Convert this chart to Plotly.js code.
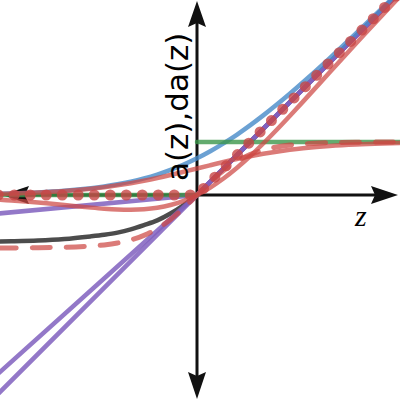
<!DOCTYPE html>
<html>
<head>
<meta charset="utf-8">
<script src="https://cdn.plot.ly/plotly-3.0.1.min.js"></script>
<style>
html,body{margin:0;padding:0;background:#fff;}
#chart{width:400px;height:400px;}
.js-line{stroke-linecap:round;stroke-linejoin:round;}
</style>
</head>
<body>
<div id="chart"></div>
<script>
// sample points along z
const z = [-3.75,-3.5,-3,-2.5,-2,-1.75,-1.5,-1.25,-1,-0.75,-0.5,-0.25,0,0.25,0.5,0.75,1,1.25,1.5,1.75,2,2.5,3,3.5,3.85];
// softplus (blue)
const softplus = [0.0233,0.0298,0.0486,0.0789,0.1269,0.1602,0.2014,0.2519,0.3133,0.3863,0.4741,0.5759,0.6931,0.8259,0.9741,1.1363,1.3133,1.5019,1.7014,1.9102,2.1269,2.5789,3.0486,3.5298,3.8710];
// sigmoid (red solid)
const sigmoid = [0.0230,0.0293,0.0474,0.0759,0.1192,0.1480,0.1824,0.2227,0.2689,0.3208,0.3775,0.4378,0.5,0.5622,0.6225,0.6792,0.7311,0.7773,0.8176,0.8520,0.8808,0.9241,0.9526,0.9707,0.9792];
// tanh (red dashed)
const tanhv = [-0.9989,-0.9982,-0.9951,-0.9866,-0.9640,-0.9414,-0.9051,-0.8483,-0.7616,-0.6351,-0.4621,-0.2449,0,0.2449,0.4621,0.6351,0.7616,0.8483,0.9051,0.9414,0.9640,0.9866,0.9951,0.9982,0.9991];
// swish (red solid)
const swish = [-0.0863,-0.1026,-0.1423,-0.1898,-0.2384,-0.2590,-0.2736,-0.2784,-0.2689,-0.2406,-0.1888,-0.1094,0,0.1406,0.3112,0.5094,0.7311,0.9716,1.2264,1.4910,1.7616,2.3103,2.8577,3.3975,3.7699];
// ELU-like (dark)
const elu = [-0.88,-0.875,-0.86,-0.83,-0.78,-0.75,-0.71,-0.65,-0.57,-0.48,-0.35,-0.19,0,0.25,0.5,0.75,1,1.25,1.5,1.75,2,2.5,3,3.5,3.85];
// straight-line functions
const zLine = [-3.75,0,3.85];
const identity = [-3.75,0,3.85];
const leaky = [-0.35,0,3.85];
const steep = [-3.37,0,3.85];
const relu = [0,0,3.85];
// step (derivative of ReLU)
const zStep = [-3.75,0,0,0,3.85];
const step = [0,0,null,1,1];

const RED = 'rgba(205,72,68,0.72)';
const tr = [
  {x:z,y:elu,mode:'lines',line:{color:'rgba(45,45,45,0.85)',width:4.5,shape:'spline'}},
  {x:zLine,y:identity,mode:'lines',line:{color:'rgba(128,96,190,0.85)',width:4.5}},
  {x:zLine,y:leaky,mode:'lines',line:{color:'rgba(128,96,190,0.85)',width:4.5}},
  {x:zLine,y:steep,mode:'lines',line:{color:'rgba(128,96,190,0.85)',width:4.5}},
  {x:z,y:softplus,mode:'lines',line:{color:'rgba(70,138,200,0.8)',width:4.5,shape:'spline'}},
  {x:zStep,y:step,mode:'lines',connectgaps:false,line:{color:'rgba(60,150,75,0.8)',width:4.5}},
  {x:z,y:sigmoid,mode:'lines',line:{color:RED,width:4.5,shape:'spline'}},
  {x:z,y:swish,mode:'lines',line:{color:RED,width:4.5,shape:'spline'}},
  {x:z,y:tanhv,mode:'lines',line:{color:RED,width:5,shape:'spline',dash:'18px,16px'}},
  {x:zLine,y:relu,mode:'lines',line:{color:'rgba(200,70,70,0.8)',width:11,dash:'0px,16px'}}
];

function px(x){return x/400;}
function py(y){return 1-y/400;}
const K='#111';
const shapes = [
  {type:'line',xref:'paper',yref:'paper',x0:px(8),x1:px(385),y0:py(195),y1:py(195),line:{color:K,width:3},layer:'below'},
  {type:'line',xref:'paper',yref:'paper',x0:px(197),x1:px(197),y0:py(12),y1:py(388),line:{color:K,width:3},layer:'below'},
  {type:'path',xref:'paper',yref:'paper',path:'M'+px(398)+','+py(195)+' L'+px(371)+','+py(186)+' L'+px(375)+','+py(195)+' L'+px(371)+','+py(204)+' Z',fillcolor:K,line:{width:0},layer:'below'},
  {type:'path',xref:'paper',yref:'paper',path:'M'+px(2)+','+py(195)+' L'+px(29)+','+py(186)+' L'+px(25)+','+py(195)+' L'+px(29)+','+py(204)+' Z',fillcolor:K,line:{width:0},layer:'below'},
  {type:'path',xref:'paper',yref:'paper',path:'M'+px(197)+','+py(1)+' L'+px(188)+','+py(27)+' L'+px(197)+','+py(23)+' L'+px(206)+','+py(27)+' Z',fillcolor:K,line:{width:0},layer:'below'},
  {type:'path',xref:'paper',yref:'paper',path:'M'+px(197)+','+py(399)+' L'+px(188)+','+py(372)+' L'+px(197)+','+py(376)+' L'+px(206)+','+py(372)+' Z',fillcolor:K,line:{width:0},layer:'below'}
];

const layout = {
  width:400,height:400,
  margin:{l:0,r:0,t:0,b:0},
  paper_bgcolor:'#fff',plot_bgcolor:'#fff',
  showlegend:false,
  xaxis:{range:[-3.717,3.830],visible:false,fixedrange:true},
  yaxis:{range:[-3.868,3.679],visible:false,fixedrange:true},
  shapes:shapes,
  annotations:[
    {xref:'paper',yref:'paper',x:px(177),y:py(107),text:'a(z),da(z)',showarrow:false,textangle:-90,
     font:{family:'DejaVu Sans',size:31,color:'#000'},xanchor:'center',yanchor:'middle'},
    {xref:'paper',yref:'paper',x:px(360),y:py(215),text:'<i>z</i>',showarrow:false,
     font:{family:'Liberation Serif, DejaVu Serif',size:30,color:'#000'},xanchor:'center',yanchor:'middle'}
  ]
};
Plotly.newPlot('chart',tr,layout,{staticPlot:true,displayModeBar:false});
</script>
</body>
</html>
